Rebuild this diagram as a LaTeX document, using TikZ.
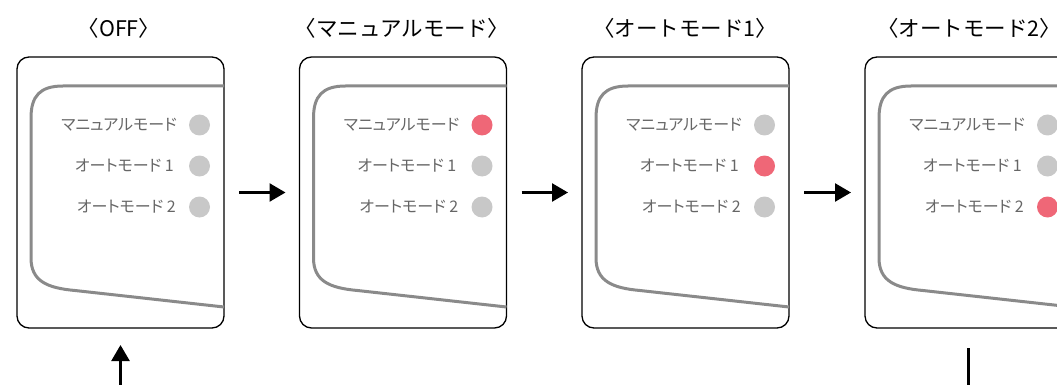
\documentclass[tikz,border=0pt]{standalone}
\usepackage{fontspec}
\setmainfont{Noto Sans CJK JP}
\newfontfamily\labelfont[RawFeature=+palt]{Noto Sans CJK JP}
\newcommand\lbrk{\makebox[0.55em][r]{〈}}
\newcommand\rbrk{\makebox[0.55em][l]{〉}}
\usetikzlibrary{arrows.meta}
\definecolor{ledoff}{HTML}{C8C8C8}
\definecolor{ledon}{HTML}{EF6777}
\definecolor{labelgray}{HTML}{666666}
\definecolor{linegray}{HTML}{8A8A8A}
\begin{document}
\begin{tikzpicture}[x=1pt,y=-1pt,
  panel/.style={draw=black,line width=1.3pt,rounded corners=12pt,minimum width=207pt,minimum height=271pt,inner sep=0pt,outer sep=0pt},
  title/.style={font=\fontsize{21.5pt}{25pt}\selectfont,text=black,inner sep=0pt},
  lbl/.style={font=\labelfont\fontsize{16pt}{19pt}\selectfont,text=labelgray,anchor=east,inner sep=0pt},
  led/.style={circle,minimum size=21pt,inner sep=0pt},
  bezel/.style={draw=linegray,line width=3pt},
  flow/.style={line width=2.5pt,-{Triangle[length=16pt,width=18pt]}}
]
\useasboundingbox (0,0) rectangle (1057,385);
\clip (0,0) rectangle (1057,385);
\foreach \L/\i/\ca/\cb/\cc in {17/1/ledoff/ledoff/ledoff, 299.5/2/ledon/ledoff/ledoff, 582/3/ledoff/ledon/ledoff, 865/4/ledoff/ledoff/ledon}{
  \node[panel] (p\i) at (\L+103.5,192.5) {};
  \draw[bezel] (\L+207,86) -- (\L+46,86) .. controls (\L+23,86) and (\L+14,96) .. (\L+14,118)
     -- (\L+14,258) .. controls (\L+14,281) and (\L+30,288) .. (\L+58,290.5) -- (\L+207,307);
  \node[lbl] (m\i) at (\L+160,125) {マニュアルモード};
  \node[lbl] (a\i) at (\L+157,166) {オートモード 1};
  \node[lbl] (b\i) at (\L+159,207) {オートモード 2};
  \node[led,fill=\ca] (dm\i) at (\L+182.5,125) {};
  \node[led,fill=\cb] (da\i) at (\L+182.5,166) {};
  \node[led,fill=\cc] (db\i) at (\L+182.5,207) {};
}
\node[title] (t1) at (119,28.5) {\lbrk OFF\rbrk};
\node[title] (t2) at (402,28.5) {\lbrk マニュアルモード\rbrk};
\node[title] (t3) at (685,28.5) {\lbrk オートモード1\rbrk};
\node[title] (t4) at (969,28.5) {\lbrk オートモード2\rbrk};
\draw[flow,shorten <=15pt,shorten >=14pt] (p1.east) -- (p2.west);
\draw[flow,shorten <=15pt,shorten >=14pt] (p2.east) -- (p3.west);
\draw[flow,shorten <=15pt,shorten >=14pt] (p3.east) -- (p4.west);
\coordinate (loopy) at (0,430);
\draw[flow,shorten <=20pt,shorten >=17pt] (p4.south) -- (p4.south |- loopy) -| (p1.south);
\end{tikzpicture}
\end{document}
